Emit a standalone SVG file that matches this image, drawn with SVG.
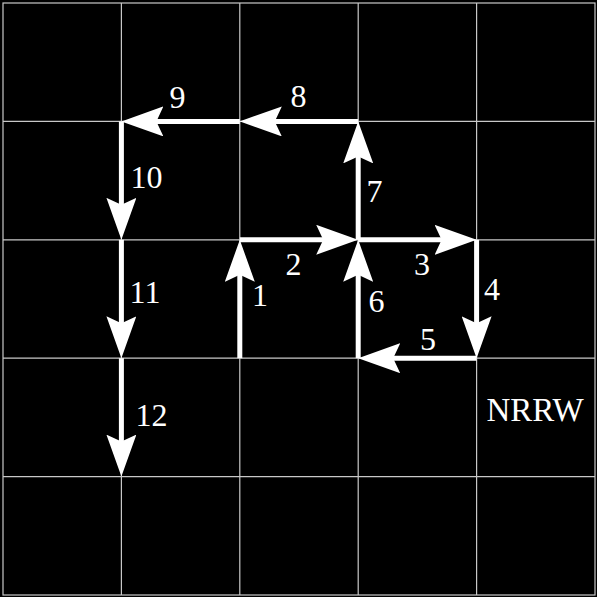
<svg xmlns="http://www.w3.org/2000/svg" width="597" height="597" viewBox="0 0 597 597">
<style>
.grid{stroke:#c8c8c8;stroke-width:1.2;fill:none}
.edge{stroke:#fff;stroke-width:5;fill:none;marker-end:url(#ah)}
.lbl{font-family:"Liberation Serif","Times New Roman",serif;font-size:32px;fill:#fff;text-anchor:middle}
.ttl{font-size:33px}
</style>
<defs>
<marker id="ah" viewBox="0 0 42 30" refX="12" refY="15" markerWidth="42" markerHeight="30" markerUnits="userSpaceOnUse" orient="auto">
<path d="M0,0 L42,15 L0,30 L7,15 Z" fill="#fff"/>
</marker>
</defs>
<rect width="597" height="597" fill="#000"/>
<g id="grid" class="grid">
<path d="M121.4,3V595M239.8,3V595M358.2,3V595M476.6,3V595M3,121.4H595M3,239.8H595M3,358.2H595M3,476.6H595"/>
<rect x="3" y="3" width="592" height="592"/>
</g>
<g id="connectors">
<path id="e1" class="edge" d="M239.8,358.2V269.8"/>
<path id="e2" class="edge" d="M239.8,239.8H328.2"/>
<path id="e3" class="edge" d="M358.2,239.8H446.6"/>
<path id="e4" class="edge" d="M476.6,239.8V328.2"/>
<path id="e5" class="edge" d="M476.6,358.2H388.2"/>
<path id="e6" class="edge" d="M358.2,358.2V269.8"/>
<path id="e7" class="edge" d="M358.2,239.8V151.4"/>
<path id="e8" class="edge" d="M358.2,121.4H269.8"/>
<path id="e9" class="edge" d="M239.8,121.4H151.4"/>
<path id="e10" class="edge" d="M121.4,121.4V209.8"/>
<path id="e11" class="edge" d="M121.4,239.8V328.2"/>
<path id="e12" class="edge" d="M121.4,358.2V446.6"/>
</g>
<g id="labels">
<text class="lbl" x="260" y="306">1</text>
<text class="lbl" x="293.5" y="275">2</text>
<text class="lbl" x="422" y="275">3</text>
<text class="lbl" x="492" y="300">4</text>
<text class="lbl" x="428" y="350">5</text>
<text class="lbl" x="376.5" y="312">6</text>
<text class="lbl" x="374.5" y="202">7</text>
<text class="lbl" x="298.5" y="107">8</text>
<text class="lbl" x="177.5" y="108">9</text>
<text class="lbl" x="146.5" y="188">10</text>
<text class="lbl" x="145" y="303">11</text>
<text class="lbl" x="151.5" y="426">12</text>
</g>
<g id="title">
<text class="lbl ttl" x="535" y="421">NRRW</text>
</g>
</svg>
